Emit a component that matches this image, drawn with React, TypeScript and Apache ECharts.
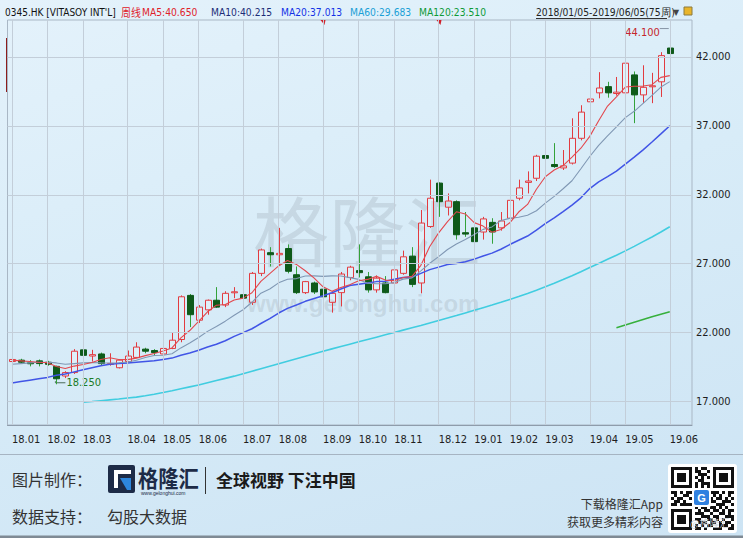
import React, { useEffect, useRef } from 'react';
import * as echarts from 'echarts';

const weeks = [
  '2018-01-05','2018-01-12','2018-01-19','2018-01-26','2018-02-02','2018-02-09','2018-02-16','2018-02-23',
  '2018-03-02','2018-03-09','2018-03-16','2018-03-23','2018-03-30','2018-04-06','2018-04-13','2018-04-20','2018-04-27',
  '2018-05-04','2018-05-11','2018-05-18','2018-05-25','2018-06-01','2018-06-08','2018-06-15','2018-06-22','2018-06-29',
  '2018-07-06','2018-07-13','2018-07-20','2018-07-27','2018-08-03','2018-08-10','2018-08-17','2018-08-24','2018-08-31',
  '2018-09-07','2018-09-14','2018-09-21','2018-09-28','2018-10-05','2018-10-12','2018-10-19','2018-10-26',
  '2018-11-02','2018-11-09','2018-11-16','2018-11-23','2018-11-30','2018-12-07','2018-12-14','2018-12-21','2018-12-28',
  '2019-01-04','2019-01-11','2019-01-18','2019-01-25','2019-02-01','2019-02-08','2019-02-15','2019-02-22',
  '2019-03-01','2019-03-08','2019-03-15','2019-03-22','2019-03-29','2019-04-05','2019-04-12','2019-04-18','2019-04-26',
  '2019-05-03','2019-05-10','2019-05-17','2019-05-24','2019-05-31','2019-06-05'
];

const opens = [19.9,20.0,19.8,19.95,19.85,19.55,18.85,19.1,20.75,20.3,
  20.45,19.7,19.45,19.9,20.2,20.8,20.7,20.45,20.85,21.5,
  24.7,22.9,23.65,24.35,24.0,24.9,24.75,24.2,26.3,27.8,
  27.65,28.1,26.2,24.9,25.6,25.15,24.2,24.9,26.0,26.5,
  26.05,25.1,25.6,25.6,26.3,27.55,25.6,29.7,32.85,31.1,
  31.5,29.25,29.6,29.3,30.0,29.6,30.3,31.75,32.9,33.2,
  34.85,34.2,33.95,34.3,36.1,38.75,39.4,39.85,39.35,39.4,
  40.7,39.25,39.85,40.2,42.65];

const closes = [20.05,19.85,19.75,19.75,19.7,18.65,19.1,20.65,20.35,20.4,
  19.75,19.75,20.0,20.3,20.95,20.65,20.55,20.85,21.45,24.6,
  23.3,23.85,24.35,23.85,24.85,24.95,24.5,26.3,28.0,27.65,
  27.75,26.45,24.9,25.7,24.95,24.6,24.85,26.25,26.75,26.35,
  25.1,25.95,24.9,26.55,27.5,25.5,29.95,31.75,31.5,31.55,
  29.1,29.15,28.6,30.25,29.3,30.1,31.6,32.5,33.0,34.8,
  34.65,34.05,34.1,36.1,38.0,38.95,39.75,39.4,39.45,41.55,
  39.25,39.8,39.9,42.1,42.25];

const lows = [19.8,19.75,19.55,19.55,19.6,18.25,18.7,19.0,20.0,19.9,
  19.65,19.6,19.4,19.85,20.15,20.5,20.3,20.4,20.8,21.3,
  22.4,22.7,23.3,23.8,23.85,24.5,24.2,24.0,26.1,26.8,
  26.9,26.3,24.8,24.8,24.8,24.5,23.45,23.9,25.8,26.0,
  24.9,24.9,24.85,25.1,26.2,25.3,24.85,29.6,30.4,30.5,
  28.75,28.95,28.5,28.75,28.45,29.4,30.1,31.6,32.1,33.0,
  33.2,33.95,33.8,34.2,35.95,37.95,39.0,39.05,39.2,39.3,
  37.2,38.65,38.65,39.1,41.8];

const highs = [20.15,20.1,20.0,20.05,19.95,19.6,19.2,20.8,20.85,20.75,
  20.55,20.5,20.05,20.7,21.3,20.9,20.8,21.2,22.0,24.7,
  24.8,24.0,24.4,25.3,25.0,25.3,25.8,26.4,28.1,28.2,
  29.6,28.4,26.8,25.75,25.7,25.65,25.0,26.4,26.85,28.4,
  26.4,26.15,26.1,26.9,27.95,28.2,30.9,33.1,32.9,32.1,
  31.6,30.75,29.8,30.4,30.3,30.75,31.95,33.1,33.7,34.9,
  35.8,35.75,35.25,37.55,38.5,39.6,40.9,40.2,40.55,41.6,
  40.95,41.4,40.85,42.35,44.1];

const ma5 = [20.0,19.95,19.9,19.85,19.82,19.54,19.39,19.57,19.69,19.83,
  20.05,20.18,20.05,20.04,20.15,20.33,20.49,20.66,20.89,21.62,
  22.15,22.81,23.51,23.99,24.04,24.37,24.5,24.89,25.72,26.28,
  26.84,27.23,26.95,26.49,25.95,25.32,25.0,25.27,25.48,25.76,
  25.86,26.08,25.81,25.77,26.0,26.08,26.88,28.25,29.24,30.05,
  30.77,30.61,29.98,29.73,29.28,29.48,29.97,30.75,31.3,32.4,
  33.31,33.8,34.12,34.74,35.38,36.24,37.38,38.44,39.11,39.82,
  39.88,39.89,39.99,40.52,40.65];

const ma10 = [19.7,19.75,19.8,19.85,19.85,19.8,19.7,19.75,19.8,19.83,
  19.8,19.79,19.81,19.87,19.99,20.19,20.34,20.36,20.47,20.89,
  21.24,21.65,22.09,22.44,22.83,23.26,23.66,24.2,24.86,25.16,
  25.61,25.87,25.92,26.11,26.12,26.08,26.12,26.11,25.99,25.86,
  25.59,25.54,25.54,25.63,25.88,25.97,26.48,27.03,27.51,28.03,
  28.43,28.75,29.12,29.49,29.67,30.13,30.29,30.37,30.52,30.84,
  31.4,31.89,32.44,33.02,33.89,34.78,35.59,36.28,36.93,37.6,
  38.06,38.64,39.22,39.82,40.215];

const ma20 = [18.35,18.45,18.55,18.65,18.75,18.9,19.0,19.15,19.3,19.45,
  19.6,19.7,19.75,19.8,19.85,19.9,19.95,20.05,20.15,20.36,
  20.52,20.72,20.95,21.15,21.41,21.73,22.0,22.28,22.66,23.02,
  23.42,23.76,24.0,24.27,24.47,24.67,24.89,25.16,25.42,25.51,
  25.6,25.7,25.73,25.87,26.0,26.03,26.3,26.57,26.75,26.94,
  27.01,27.14,27.33,27.56,27.77,28.05,28.39,28.7,29.01,29.43,
  29.91,30.32,30.78,31.25,31.78,32.45,32.94,33.32,33.72,34.22,
  34.73,35.26,35.83,36.42,37.013];

const ma60 = [null,null,null,null,null,null,null,null,
  16.95,17.0,17.06,17.12,17.18,17.25,17.32,17.42,17.53,17.65,17.78,17.92,
  18.06,18.2,18.36,18.52,18.68,18.84,19.02,19.2,19.38,19.56,
  19.74,19.92,20.1,20.28,20.46,20.64,20.82,20.99,21.16,21.33,
  21.5,21.67,21.84,22.01,22.18,22.35,22.52,22.7,22.88,23.06,
  23.24,23.43,23.62,23.81,24.0,24.2,24.41,24.62,24.84,25.07,
  25.32,25.58,25.85,26.13,26.42,26.72,27.02,27.32,27.62,27.93,
  28.26,28.6,28.94,29.3,29.683];

const ma120 = [null,null,null,null,null,null,null,null,null,null,
  null,null,null,null,null,null,null,null,null,null,
  null,null,null,null,null,null,null,null,null,null,
  null,null,null,null,null,null,null,null,null,null,
  null,null,null,null,null,null,null,null,null,null,
  null,null,null,null,null,null,null,null,null,null,
  null,null,null,null,null,null,null,null,
  22.35,22.55,22.75,22.95,23.15,23.33,23.51];

const yTicks = [17, 22, 27, 32, 37, 42];
const eventWeeks = ['2018-09-07', '2018-12-07'];

const qrRows = [
  '111111101011001111111','100000101100101000001','101110100111001011101','101110101010101011101',
  '101110100110001011101','100000101011101000001','111111101010101111111','000000001101000000000',
  '110101111010011101011','010011010111101010010','101100111000110110101','011010001101011001110',
  '110111100110100111001','000000001011011010100','111111100101101101011','100000101110010011010',
  '101110100011101100111','101110101100110101001','101110100111011010110','100000101010110011101',
  '111111101101001110011'
];

const NARROW = "'Liberation Sans Narrow', 'DejaVu Sans Condensed', 'Arial Narrow', sans-serif";
const CJK = "'Noto Sans CJK SC', 'Noto Sans', sans-serif";
const RED = '#e23b40';
const GREEN_BODY = '#0e5a1a';
const GREEN_WICK = '#33a23a';

const monthStarts: number[] = [];
weeks.forEach((w, i) => {
  if (i === 0 || w.slice(0, 7) !== weeks[i - 1].slice(0, 7)) monthStarts.push(i);
});

export default function App() {
  const ref = useRef<HTMLDivElement>(null);
  useEffect(() => {
    document.body.style.margin = '0';
    const chart = echarts.init(ref.current as HTMLDivElement, undefined, { renderer: 'svg', width: 743, height: 538 });
    const xData = [...weeks, ' ', '  '];
    const lineSeries = (name: string, data: any[], color: string, width: number) => ({
      name, type: 'line', data, symbol: 'none', showSymbol: false, z: 4, silent: true,
      lineStyle: { color, width }, itemStyle: { color }, connectNulls: false,
    });
    chart.setOption({
      animation: false,
      backgroundColor: 'transparent',
      grid: { left: 7.5, right: 51, top: 20, bottom: 113, show: true, borderColor: '#a9b7c5', borderWidth: 1, backgroundColor: 'transparent' },
      xAxis: {
        type: 'category', data: xData, boundaryGap: true,
        axisLine: { show: true, lineStyle: { color: '#8e9cab' } },
        axisTick: { show: false }, splitLine: { show: false },
        axisLabel: {
          interval: (i: number) => monthStarts.indexOf(i) >= 0,
          formatter: (v: string) => (v.length > 5 ? v.slice(2, 4) + '.' + v.slice(5, 7) : ''),
          align: 'left', margin: 9, fontSize: 11, color: '#1e1e1e', fontFamily: NARROW,
        },
      },
      yAxis: {
        type: 'value', position: 'right', min: 15.295, max: 44.685, scale: true,
        axisLine: { show: false }, axisTick: { show: false, customValues: yTicks }, splitLine: { show: false },
        axisLabel: { customValues: yTicks, formatter: (v: number) => v.toFixed(3), margin: 4, fontSize: 11, color: '#1e1e1e', fontFamily: NARROW },
      },
      series: [
        {
          name: 'grid', type: 'line', data: [], z: 1, silent: true,
          markLine: {
            silent: true, symbol: 'none', animation: false, label: { show: false },
            lineStyle: { color: '#c3ced9', width: 1, type: 'solid' },
            emphasis: { disabled: true },
            data: [
              ...yTicks.map((v) => ({ yAxis: v })),
              ...monthStarts.map((i) => ({ xAxis: weeks[i] })),
            ],
          },
        },
        {
          name: 'K', type: 'custom', z: 3,
          data: weeks.map((_, i) => [i, opens[i], closes[i], lows[i], highs[i]]),
          encode: { x: 0, y: [1, 2, 3, 4] },
          renderItem: (params: any, api: any) => {
            const i = api.value(0);
            const o = api.value(1), c = api.value(2), l = api.value(3), h = api.value(4);
            const pO = api.coord([i, o]);
            const yC = api.coord([i, c])[1];
            const yL = api.coord([i, l])[1];
            const yH = api.coord([i, h])[1];
            const yO = pO[1];
            const cx = Math.round(pO[0]) + 0.5;
            const bw = Math.max(3, Math.round(api.size([1, 0])[0] * 0.7));
            let top = Math.min(yO, yC), bot = Math.max(yO, yC);
            if (bot - top < 1) { const m = (top + bot) / 2; top = m - 0.5; bot = m + 0.5; }
            const left = cx - bw / 2;
            const up = c >= o;
            if (up) {
              return {
                type: 'group', children: [
                  { type: 'line', shape: { x1: cx, y1: yH, x2: cx, y2: top }, style: { stroke: RED, lineWidth: 1 } },
                  { type: 'line', shape: { x1: cx, y1: bot, x2: cx, y2: yL }, style: { stroke: RED, lineWidth: 1 } },
                  { type: 'rect', shape: { x: left, y: top, width: bw, height: bot - top }, style: { fill: 'rgba(255,255,255,0.2)', stroke: RED, lineWidth: 1 } },
                ],
              };
            }
            return {
              type: 'group', children: [
                { type: 'line', shape: { x1: cx, y1: yH, x2: cx, y2: yL }, style: { stroke: GREEN_WICK, lineWidth: 1 } },
                { type: 'rect', shape: { x: left, y: top, width: bw, height: bot - top }, style: { fill: GREEN_BODY, stroke: GREEN_BODY, lineWidth: 1 } },
              ],
            };
          },
        },
        lineSeries('MA120', ma120, '#36b03c', 1.5),
        lineSeries('MA60', ma60, '#41cde0', 1.6),
        lineSeries('MA20', ma20, '#4155e6', 1.5),
        lineSeries('MA10', ma10, '#8098b4', 1.1),
        lineSeries('MA5', ma5, '#e3484e', 1.1),
      ],
    });

    const px = (i: number, v: number) => chart.convertToPixel({ gridIndex: 0 }, [i, v]) as number[];
    let hi = 0, lo = 0;
    highs.forEach((v, i) => { if (v > highs[hi]) hi = i; });
    lows.forEach((v, i) => { if (v < lows[lo]) lo = i; });
    const [hx, hy] = px(hi, highs[hi]);
    const [lx, ly] = px(lo, lows[lo]);

    const g: any[] = [];
    // watermark
    g.push({ type: 'text', x: 253, y: 190, z: 0, style: { text: '格隆汇', font: `76px ${CJK}`, fill: 'rgba(125,135,145,0.2)' } });
    g.push({ type: 'text', x: 247, y: 291, z: 0, style: { text: 'www.gelonghui.com', font: `bold 24px 'Liberation Sans', Arial, sans-serif`, fill: 'rgba(125,135,145,0.2)' } });

    // header
    const hdr = [
      { t: "0345.HK [VITASOY INT'L]", x: 5, c: '#111', f: NARROW, s: 0.91 },
      { t: '周线', x: 121, c: '#e0222a', f: CJK, s: 0.9 },
      { t: `MA5:${ma5[74].toFixed(3)}`, x: 142, c: '#e0222a', f: NARROW, s: 0.93 },
      { t: `MA10:${ma10[74].toFixed(3)}`, x: 211, c: '#1c2e78', f: NARROW, s: 0.93 },
      { t: `MA20:${ma20[74].toFixed(3)}`, x: 281, c: '#1232e6', f: NARROW, s: 0.93 },
      { t: `MA60:${(ma60[74] as number).toFixed(3)}`, x: 350, c: '#1a9fd6', f: NARROW, s: 0.93 },
      { t: `MA120:${(ma120[74] as number).toFixed(3)}`, x: 419, c: '#0e9a36', f: NARROW, s: 0.93 },
      { t: '2018/01/05-2019/06/05(75周)', x: 536, c: '#222', f: NARROW, s: 0.93 },
    ];
    hdr.forEach((h) => g.push({ type: 'text', x: h.x, y: 12, scaleX: h.s, style: { text: h.t, font: `11px ${h.f}`, fill: h.c, verticalAlign: 'middle' } }));
    g.push({ type: 'line', shape: { x1: 536, y1: 18.5, x2: 667, y2: 18.5 }, style: { stroke: '#333', lineWidth: 1 } });
    g.push({ type: 'text', x: 673, y: 12, style: { text: '▼', font: `8px 'DejaVu Sans', sans-serif`, fill: '#444', verticalAlign: 'middle' } });
    g.push({ type: 'rect', shape: { x: 684, y: 7, width: 8, height: 8 }, style: { fill: '#e9b52a', stroke: '#8a7a40', lineWidth: 1 } });
    g.push({ type: 'line', shape: { x1: 6.5, y1: 38, x2: 6.5, y2: 92 }, style: { stroke: '#8c1d1d', lineWidth: 1 } });

    // event flags
    eventWeeks.forEach((w) => {
      const x = Math.round(px(weeks.indexOf(w), 30)[0]) + 0.5;
      g.push({ type: 'polygon', shape: { points: [[x - 3, 20], [x + 2, 20], [x + 1, 25]] }, style: { fill: '#d0202a' } });
    });

    // high / low labels
    g.push({ type: 'line', shape: { x1: hx - 10, y1: hy + 0.5, x2: hx - 1, y2: hy + 0.5 }, style: { stroke: '#8796a6', lineWidth: 1 } });
    g.push({ type: 'text', x: hx - 10, y: hy + 4, style: { text: highs[hi].toFixed(3), font: `11px ${NARROW}`, fill: '#c5262c', align: 'right', verticalAlign: 'middle' } });
    g.push({ type: 'line', shape: { x1: lx - 1, y1: ly - 3, x2: lx - 1, y2: ly - 1.5 }, style: { stroke: '#4a6a58', lineWidth: 1 } });
    g.push({ type: 'line', shape: { x1: lx - 1, y1: ly - 1.5, x2: lx + 9, y2: ly - 1.5 }, style: { stroke: '#4a6a58', lineWidth: 1 } });
    g.push({ type: 'text', x: lx + 10, y: ly - 1.5, style: { text: lows[lo].toFixed(3), font: `11px ${NARROW}`, fill: '#1b7a25', verticalAlign: 'middle' } });

    // footer
    g.push({ type: 'line', shape: { x1: 0, y1: 454.5, x2: 743, y2: 454.5 }, style: { stroke: '#a6b4c2', lineWidth: 1 } });
    g.push({ type: 'text', x: 12, y: 479, style: { text: '图片制作：', font: `16px ${CJK}`, fill: '#333', verticalAlign: 'middle' } });
    g.push({ type: 'rect', shape: { x: 108, y: 465, width: 27, height: 28, r: 2 }, style: { fill: '#1d2b47' } });
    g.push({ type: 'polygon', shape: { points: [[114, 470], [131, 470], [131, 474], [118, 474], [118, 488], [114, 488]] }, style: { fill: '#ffffff' } });
    g.push({ type: 'polygon', shape: { points: [[120, 478], [131, 478], [131, 490], [127, 490]] }, style: { fill: '#2d86dc' } });
    g.push({ type: 'text', x: 138, y: 465, scaleX: 0.88, style: { text: '格隆汇', font: `bold 23px ${CJK}`, fill: '#1d2b47' } });
    g.push({ type: 'text', x: 141, y: 490, style: { text: 'www.gelonghui.com', font: `5px 'Liberation Sans', sans-serif`, fill: '#1d2b47' } });
    g.push({ type: 'line', shape: { x1: 205.5, y1: 467, x2: 205.5, y2: 494 }, style: { stroke: '#333', lineWidth: 1 } });
    g.push({ type: 'text', x: 216, y: 479, style: { text: '全球视野 下注中国', font: `bold 17px ${CJK}`, fill: '#1a1a1a', verticalAlign: 'middle' } });
    g.push({ type: 'text', x: 12, y: 516, style: { text: '数据支持：', font: `16px ${CJK}`, fill: '#333', verticalAlign: 'middle' } });
    g.push({ type: 'text', x: 107, y: 516, style: { text: '勾股大数据', font: `16px ${CJK}`, fill: '#333', verticalAlign: 'middle' } });
    g.push({ type: 'text', x: 663, y: 503, style: { text: '下载格隆汇App', font: `12px ${CJK}`, fill: '#333', align: 'right', verticalAlign: 'middle' } });
    g.push({ type: 'text', x: 663, y: 521, style: { text: '获取更多精彩内容', font: `12px ${CJK}`, fill: '#333', align: 'right', verticalAlign: 'middle' } });

    // QR
    g.push({ type: 'rect', shape: { x: 668, y: 464, width: 69, height: 69, r: 3 }, style: { fill: '#ffffff' } });
    const qx = 671, qy = 467, m = 3;
    qrRows.forEach((row, r) => {
      let s = -1;
      for (let k = 0; k <= row.length; k++) {
        const on = row[k] === '1';
        if (on && s < 0) s = k;
        if (!on && s >= 0) {
          g.push({ type: 'rect', shape: { x: qx + s * m, y: qy + r * m, width: (k - s) * m, height: m }, style: { fill: '#111' } });
          s = -1;
        }
      }
    });
    g.push({ type: 'rect', shape: { x: 692, y: 488, width: 19, height: 19, r: 2 }, style: { fill: '#ffffff' } });
    g.push({ type: 'rect', shape: { x: 694, y: 490, width: 15, height: 15, r: 2 }, style: { fill: '#2f80e0' } });
    g.push({ type: 'text', x: 701.5, y: 497.5, style: { text: 'G', font: `bold 11px 'Liberation Sans', sans-serif`, fill: '#fff', align: 'center', verticalAlign: 'middle' } });
    g.push({ type: 'text', x: 690, y: 522, style: { text: '@格隆汇', font: `10px ${CJK}`, fill: 'rgba(200,206,212,0.95)', verticalAlign: 'middle' } });
    g.push({ type: 'rect', shape: { x: 0, y: 535.5, width: 743, height: 2.5 }, style: { fill: '#7f8a94' } });

    chart.setOption({ graphic: g });
    return () => chart.dispose();
  }, []);
  return (
    <div
      ref={ref}
      style={{ width: 743, height: 538, background: 'linear-gradient(165deg, #e4f2fb 0%, #d8ecf8 45%, #cde4f4 100%)' }}
    />
  );
}
